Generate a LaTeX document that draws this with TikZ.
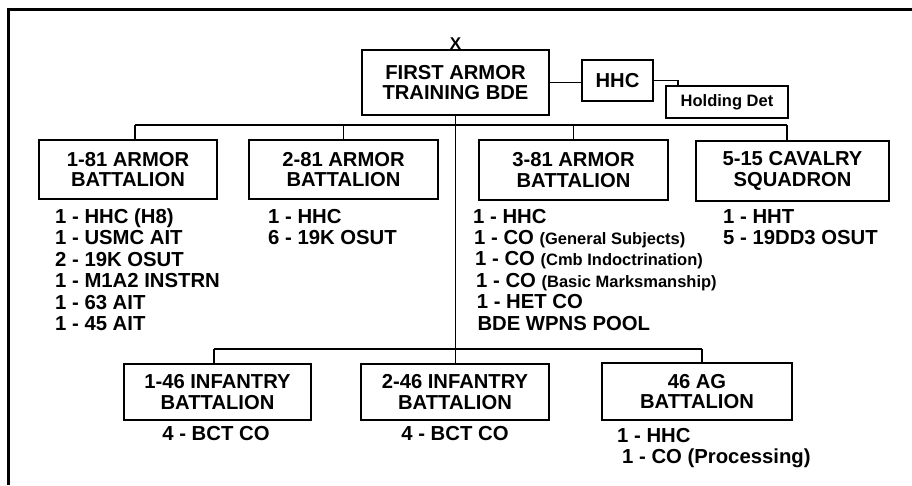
\documentclass[tikz,border=0pt]{standalone}
\usepackage{fontspec}
\setmainfont{Liberation Sans}
\begin{document}
\begin{tikzpicture}[x=1pt,y=-1pt,
  unit/.style={draw, line width=1.3pt, inner sep=0pt, align=center,
    font=\bfseries\fontsize{20.2}{20.5}\selectfont},
  item/.style={anchor=base west, inner sep=0pt,
    font=\bfseries\fontsize{20.3}{21.5}\selectfont},
  small/.style={font=\bfseries\fontsize{16.5}{16.5}\selectfont},
  link/.style={line width=1.1pt},
  frame/.style={line width=3pt}]
\useasboundingbox (0,0) rectangle (912,485);
% frame
\draw[frame] (8.8,485) -- (8.8,9.8) -- (912,9.8);
% command
\node[unit, minimum width=187pt, minimum height=65pt] (bde) at (455.5,82.5) {FIRST ARMOR\\TRAINING BDE};
\node[inner sep=0pt, font=\bfseries\fontsize{17}{17}\selectfont] (xmark) at (455.5,43.5) {X};
\node[unit, minimum width=71pt, minimum height=41pt] (hhc) at (617.5,80.5) {HHC};
\node[unit, small, minimum width=122pt, minimum height=32pt] (hd) at (727,102) {Holding Det};
% battalions row 1
\node[unit, minimum width=178pt, minimum height=59pt] (a1) at (128,169.5) {1-81 ARMOR\\BATTALION};
\node[unit, minimum width=189pt, minimum height=59pt] (a2) at (343.5,169.5) {2-81 ARMOR\\BATTALION};
\node[unit, minimum width=189pt, minimum height=60pt] (a3) at (573.5,170) {3-81 ARMOR\\BATTALION};
\node[unit, minimum width=193pt, minimum height=60pt] (a4) at (792.5,171) {5-15 CAVALRY\\SQUADRON};
% battalions row 2
\node[unit, minimum width=187pt, minimum height=56pt] (i1) at (217.5,392) {1-46 INFANTRY\\BATTALION};
\node[unit, minimum width=188pt, minimum height=56pt] (i2) at (455,392) {2-46 INFANTRY\\BATTALION};
\node[unit, minimum width=190pt, minimum height=57pt] (ag) at (697,391.5) {46 AG\\BATTALION};
% connectors
\coordinate (b1) at (135,125);
\coordinate (b4) at (787,125);
\coordinate (c1) at (214,349);
\coordinate (c3) at (702,349);
\coordinate (h1) at (678,80.5);
\draw[link] (bde.south) -- (bde.south |- i2.north);
\draw[link] (b1) -- (b4);
\draw[link] (b1) -- (b1 |- a1.north);
\draw[link] (a2.north) -- (a2.north |- b1);
\draw[link] (a3.north) -- (a3.north |- b1);
\draw[link] (b4) -- (b4 |- a4.north);
\draw[link] (c1) -- (c3);
\draw[link] (c1) -- (c1 |- i1.north);
\draw[link] (c3) -- (c3 |- ag.north);
\draw[link] (bde.east) -- (bde.east -| hhc.west);
\draw[link] (hhc.east) -- (h1) -- (h1 |- hd.north);
% lists
\foreach \t [count=\i] in {1 - HHC (H8),1 - USMC AIT,2 - 19K OSUT,1 - M1A2 INSTRN,1 - 63 AIT,1 - 45 AIT}
  \node[item] (la\i) at (55,{223+21.5*(\i-1)}) {\t};
\node[item] (lb1) at (268,223) {1 - HHC};
\node[item] (lb2) at (268,244.5) {6 - 19K OSUT};
\node[item] (lc1) at (473,223) {1 - HHC};
\node[item] (lc2) at (474,244.4) {1 - CO {\fontsize{16.5}{16.5}\selectfont (General Subjects)}};
\node[item] (lc3) at (475,265.8) {1 - CO {\fontsize{16.5}{16.5}\selectfont (Cmb Indoctrination)}};
\node[item] (lc4) at (476,287.2) {1 - CO {\fontsize{16.5}{16.5}\selectfont (Basic Marksmanship)}};
\node[item] (lc5) at (476.7,308.6) {1 - HET CO};
\node[item] (lc6) at (477.3,330) {BDE WPNS POOL};
\node[item] (ld1) at (723,223) {1 - HHT};
\node[item] (ld2) at (723,244.5) {5 - 19DD3 OSUT};
\node[item, anchor=base] (le1) at (216,440) {4 - BCT CO};
\node[item, anchor=base] (lf1) at (455,440) {4 - BCT CO};
\node[item] (lg1) at (617,442) {1 - HHC};
\node[item] (lg2) at (622,463) {1 - CO (Processing)};
\end{tikzpicture}
\end{document}
